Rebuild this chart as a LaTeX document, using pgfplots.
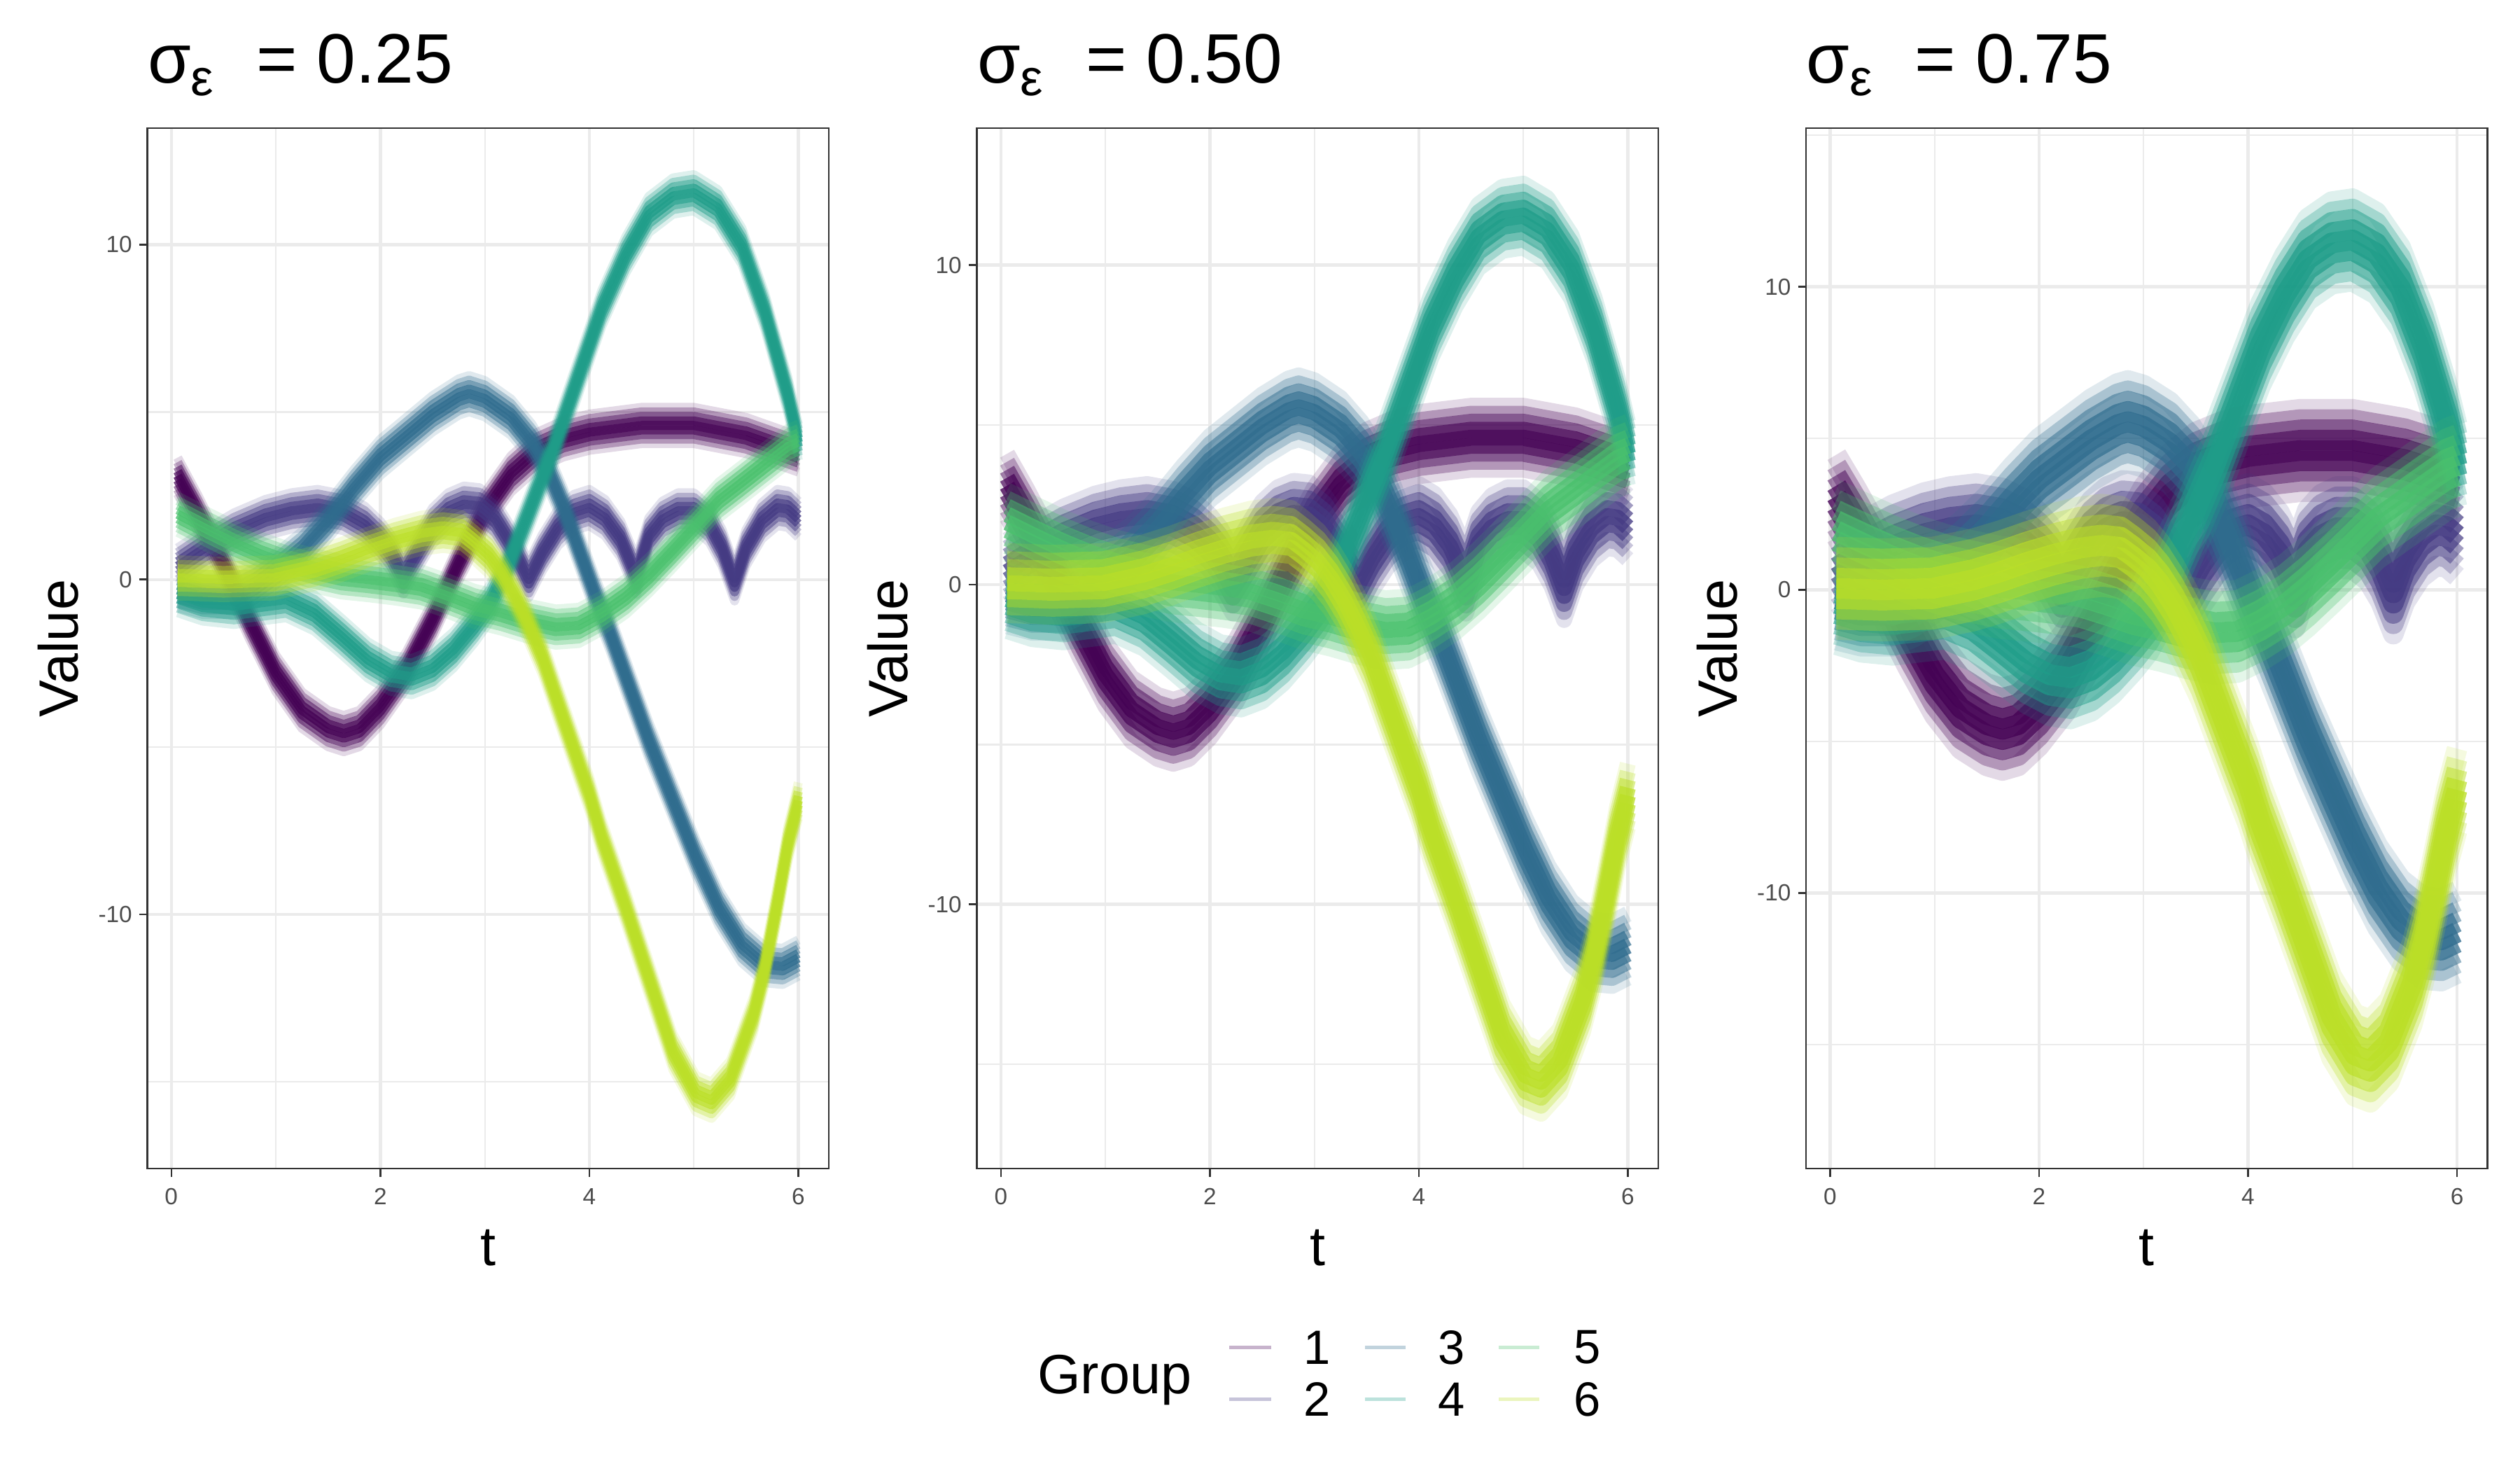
\documentclass[border=0pt]{standalone}
\usepackage{fontspec}
\setmainfont{Liberation Sans}
\usepackage{pgfplots}
\usepackage{pgfplotstable}
\pgfplotsset{compat=1.18}

\definecolor{cA}{HTML}{440154}
\definecolor{cB}{HTML}{443A83}
\definecolor{cC}{HTML}{2F6C8E}
\definecolor{cD}{HTML}{1F9D89}
\definecolor{cE}{HTML}{4AC16D}
\definecolor{cF}{HTML}{BBDF27}
\colorlet{kA}{cA!30!white}
\colorlet{kB}{cB!30!white}
\colorlet{kC}{cC!30!white}
\colorlet{kD}{cD!30!white}
\colorlet{kE}{cE!30!white}
\colorlet{kF}{cF!30!white}
\definecolor{grey20}{HTML}{333333}
\definecolor{grey30}{HTML}{4D4D4D}
\definecolor{grey92}{HTML}{EBEBEB}

\pgfplotstableread{
t y
0.06 3.1
0.25 2.0
0.5 0.45
0.75 -1.25
1.0 -2.8
1.25 -3.9
1.5 -4.45
1.65 -4.6
1.8 -4.45
2.0 -3.8
2.25 -2.7
2.5 -1.2
2.75 0.5
3.0 2.05
3.25 3.15
3.5 3.85
3.75 4.2
4.0 4.4
4.5 4.6
5.0 4.6
5.5 4.3
6.0 3.75
}\gA

\pgfplotstableread{
t y
0.06 0.4
0.3 0.9
0.6 1.45
0.9 1.85
1.15 2.05
1.4 2.15
1.65 2.0
1.85 1.65
2.0 1.2
2.1 0.8
2.22 0.1
2.35 0.8
2.5 1.6
2.65 2.05
2.8 2.25
2.95 2.2
3.1 1.8
3.25 1.05
3.42 0.0
3.55 0.8
3.7 1.55
3.85 2.0
4.0 2.15
4.15 1.85
4.3 1.2
4.45 0.1
4.57 1.3
4.7 1.8
4.85 2.05
5.0 2.05
5.15 1.65
5.27 0.95
5.39 -0.1
5.5 0.95
5.65 1.75
5.8 2.15
5.9 2.1
6.0 1.8
}\gB

\pgfplotstableread{
t y
0.06 -0.3
0.3 -0.5
0.6 -0.5
0.8 -0.2
1.0 0.25
1.25 0.9
1.5 1.75
1.75 2.75
2.0 3.65
2.25 4.3
2.5 4.95
2.75 5.45
2.85 5.55
3.0 5.4
3.25 4.85
3.45 4.1
3.6 3.3
3.75 2.2
3.9 0.9
4.05 -0.4
4.2 -1.6
4.35 -2.9
4.57 -4.8
4.8 -6.6
5.02 -8.3
5.24 -9.8
5.46 -10.9
5.68 -11.5
5.85 -11.55
6.0 -11.3
}\gC

\pgfplotstableread{
t y
0.06 -0.45
0.3 -0.7
0.6 -0.8
0.85 -0.7
1.1 -0.6
1.37 -1.0
1.63 -1.7
1.88 -2.4
2.1 -2.8
2.3 -2.9
2.5 -2.65
2.7 -2.1
2.9 -1.35
3.05 -0.7
3.2 0.25
3.42 2.0
3.68 4.1
3.9 6.1
4.12 8.1
4.35 9.7
4.57 10.9
4.8 11.45
5.0 11.55
5.23 11.1
5.46 9.95
5.68 8.0
5.9 5.5
6.0 4.1
}\gD

\pgfplotstableread{
t y
0.06 1.95
0.34 1.5
0.6 1.1
0.86 0.75
1.11 0.47
1.37 0.26
1.63 0.08
1.88 0.0
2.14 -0.1
2.39 -0.22
2.65 -0.5
2.9 -0.8
3.16 -1.0
3.42 -1.25
3.68 -1.42
3.9 -1.37
4.12 -1.0
4.35 -0.5
4.57 0.13
4.8 0.88
5.02 1.62
5.24 2.37
5.46 2.9
5.68 3.44
5.9 3.97
6.0 4.1
}\gE

\pgfplotstableread{
t y
0.06 0.05
0.5 0.0
0.98 0.05
1.37 0.33
1.63 0.6
1.88 0.9
2.14 1.17
2.39 1.38
2.6 1.47
2.78 1.4
2.9 1.1
3.04 0.7
3.16 0.2
3.29 -0.5
3.42 -1.35
3.55 -2.3
3.68 -3.5
3.9 -5.5
4.0 -6.4
4.12 -7.7
4.35 -9.8
4.57 -11.9
4.8 -14.1
5.02 -15.35
5.17 -15.55
5.35 -14.9
5.57 -13.0
5.68 -11.6
5.79 -9.8
5.9 -7.9
6.0 -6.6
}\gF

% one bundle: the read curve drawn nine times, shifted up and down
% #1 table, #2 colour, #3 vertical shift (data units), #4 line width, #5 opacity
\newcommand{\bl}[5]{\addplot[#2, line width=#4, opacity=#5, line join=round, forget plot] table[x=t, y expr=\thisrow{y}+#3]{#1};}
\newcommand{\grp}[4]{%
  \bl{#1}{#2}{-4*#3}{#4}{0.15}
  \bl{#1}{#2}{4*#3}{#4}{0.15}
  \bl{#1}{#2}{-3*#3}{#4}{0.3}
  \bl{#1}{#2}{3*#3}{#4}{0.3}
  \bl{#1}{#2}{-2*#3}{#4}{0.5}
  \bl{#1}{#2}{2*#3}{#4}{0.5}
  \bl{#1}{#2}{-#3}{#4}{0.7}
  \bl{#1}{#2}{#3}{#4}{0.7}
  \bl{#1}{#2}{0}{#4}{0.8}
}
\newcommand{\allgroups}[2]{%
  \grp{\gA}{cA}{#1}{#2}
  \grp{\gB}{cB}{#1}{#2}
  \grp{\gC}{cC}{#1}{#2}
  \grp{\gD}{cD}{#1}{#2}
  \grp{\gE}{cE}{#1}{#2}
  \grp{\gF}{cF}{#1}{#2}
}
\newcommand{\ptitle}[1]{\fontsize{24}{28}\selectfont σ\raisebox{-4.4pt}{\fontsize{17.5}{20}\selectfont ε}\hspace{14.6pt}= #1}

\pgfplotsset{panel/.style={
  scale only axis, width=233.6pt, height=356.7pt, anchor=south west,
  xmin=-0.23, xmax=6.29,
  xtick={0,2,4,6}, xticklabels={0,2,4,6},
  ytick={-10,0,10}, yticklabels={-10,0,10},
  minor xtick={1,3,5},
  xmajorgrids, ymajorgrids, xminorgrids, yminorgrids,
  major grid style={grey92, line width=1.07pt},
  minor grid style={grey92, line width=0.53pt},
  axis line style={grey20, line width=0.55pt},
  major tick style={grey20, line width=0.6pt},
  major tick length=2.75pt, minor tick length=0pt,
  tick align=outside, tick pos=left,
  ticklabel style={font=\fontsize{8}{9.6}\selectfont, text=grey30, inner sep=0pt},
  xticklabel style={anchor=north, yshift=-3.85pt},
  yticklabel style={anchor=east, xshift=-2.25pt},
  /pgf/number format/assume math mode=true,
}}

\begin{document}
\begin{tikzpicture}
\useasboundingbox (0,0) rectangle (864pt,504pt);

\begin{axis}[panel, at={(50.5pt,103.4pt)}, ymin=-17.59, ymax=13.48, minor ytick={-15,-5,5}]
\allgroups{0.135}{3.1pt}
\end{axis}

\begin{axis}[panel, at={(334.9pt,103.4pt)}, ymin=-18.27, ymax=14.29, minor ytick={-15,-5,5}]
\allgroups{0.25}{5.48pt}
\end{axis}

\begin{axis}[panel, at={(619.2pt,103.4pt)}, ymin=-19.1, ymax=15.24, minor ytick={-15,-5,5,15}]
\allgroups{0.34}{7.07pt}
\end{axis}

% titles
\node[anchor=base west, inner sep=0pt] at (50.5pt,475.6pt) {\ptitle{0.25}};
\node[anchor=base west, inner sep=0pt] at (334.9pt,475.6pt) {\ptitle{0.50}};
\node[anchor=base west, inner sep=0pt] at (619.2pt,475.6pt) {\ptitle{0.75}};

% axis titles
\foreach \xx in {20.0pt, 304.4pt, 588.7pt}
  \node[rotate=90, inner sep=0pt, font=\fontsize{19}{22}\selectfont] at (\xx,281.7pt) {Value};
\foreach \xx in {167.3pt, 451.7pt, 736.0pt}
  \node[inner sep=0pt, font=\fontsize{19}{22}\selectfont] at (\xx,76.2pt) {t};

% legend
\node[anchor=west, inner sep=0pt, font=\fontsize{19}{22}\selectfont] at (355.5pt,31pt) {Group};
\begin{scope}[line width=1.15pt]
\draw[kA] (421.5pt,42.1pt) -- (435.8pt,42.1pt);
\draw[kB] (421.5pt,24.4pt) -- (435.8pt,24.4pt);
\draw[kC] (468pt,42.1pt) -- (481.8pt,42.1pt);
\draw[kD] (468pt,24.4pt) -- (481.8pt,24.4pt);
\draw[kE] (513.9pt,42.1pt) -- (527.8pt,42.1pt);
\draw[kF] (513.9pt,24.4pt) -- (527.8pt,24.4pt);
\end{scope}
\begin{scope}[every node/.style={anchor=west, inner sep=0pt, font=\fontsize{16.5}{19}\selectfont}]
\node at (446.9pt,42.1pt) {1};
\node at (446.9pt,24.4pt) {2};
\node at (492.9pt,42.1pt) {3};
\node at (492.9pt,24.4pt) {4};
\node at (539.4pt,42.1pt) {5};
\node at (539.4pt,24.4pt) {6};
\end{scope}
\end{tikzpicture}
\end{document}
